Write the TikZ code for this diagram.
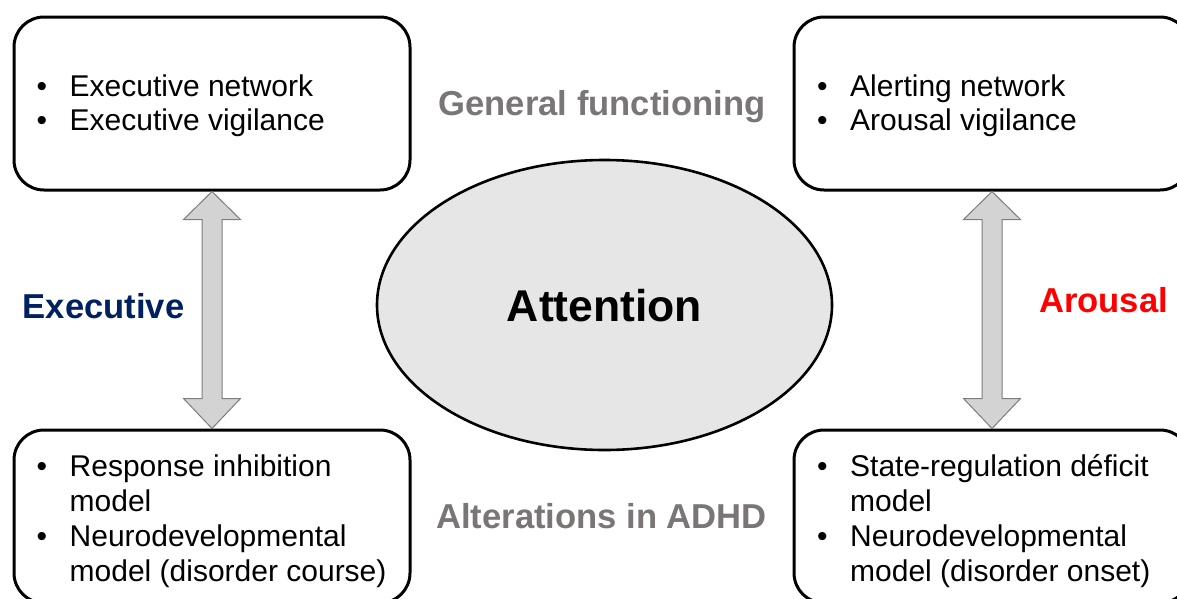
\documentclass[tikz,border=0pt]{standalone}
\usepackage{fontspec}
\setmainfont{Liberation Sans}
\usetikzlibrary{shapes.geometric,calc}

\definecolor{navylabel}{RGB}{0,32,96}
\definecolor{graylabel}{RGB}{122,118,118}
\definecolor{ovalfill}{RGB}{230,230,230}
\definecolor{arrowfill}{RGB}{211,211,211}
\definecolor{arrowline}{RGB}{125,125,125}

% bullet with a fixed hanging indent, and the matching blank indent
\newcommand{\bul}{\makebox[33pt][l]{\textbullet}}
\newcommand{\ind}{\hspace*{33pt}}

\begin{document}
\begin{tikzpicture}[x=1pt,y=-1pt,
  panel/.style={draw,line width=3pt,rounded corners=30pt,
    minimum width=396pt,minimum height=173pt,inner sep=0pt},
  toplist/.style={inner sep=0pt,anchor=base west,
    font=\fontsize{30}{34}\selectfont},
  botlist/.style={inner sep=0pt,anchor=base west,
    font=\fontsize{30}{35.3}\selectfont},
  sidelabel/.style={inner sep=0pt,anchor=base,
    font=\bfseries\fontsize{34.6}{40}\selectfont},
  oval/.style={ellipse,draw,line width=2.6pt,fill=ovalfill,
    minimum width=455pt,minimum height=290pt,inner sep=0pt},
  blockarrow/.style={draw=arrowline,fill=arrowfill,line width=1pt,line join=miter}
]
\useasboundingbox (0,0) rectangle (1177,598);
\clip (0,0) rectangle (1177,598);

% four panels
\node[panel] (tl) at (212,103.5) {};
\node[panel] (tr) at (992,103.5) {};
\node[panel] (bl) at (212,516.5) {};
\node[panel] (br) at (992,516.5) {};

% panel contents
\node[toplist] (tltext) at (36.5,96) {\begin{tabular}[t]{@{}l@{}}
  \bul Executive network\\
  \bul Executive vigilance
\end{tabular}};
\node[toplist] (trtext) at (817,96) {\begin{tabular}[t]{@{}l@{}}
  \bul Alerting network\\
  \bul Arousal vigilance
\end{tabular}};
\node[botlist] (bltext) at (36.5,476) {\begin{tabular}[t]{@{}l@{}}
  \bul Response inhibition\\
  \ind model\\
  \bul Neurodevelopmental\\
  \ind model (disorder course)
\end{tabular}};
\node[botlist] (brtext) at (817,476) {\begin{tabular}[t]{@{}l@{}}
  \bul State-regulation déficit\\
  \ind model\\
  \bul Neurodevelopmental\\
  \ind model (disorder onset)
\end{tabular}};

% central oval
\node[oval] (att) at (604.5,305) {};
\node[inner sep=0pt,anchor=base,font=\bfseries\fontsize{44.5}{50}\selectfont]
  (atttext) at (604.5,321) {Attention};

% labels
\node[sidelabel,text=graylabel] (gen) at (602,115) {General functioning};
\node[sidelabel,text=graylabel] (alt) at (601.5,528) {Alterations in ADHD};
\node[sidelabel,text=navylabel] (exe) at (103.5,318) {Executive};
\node[sidelabel,text=red] (aro) at (1103.5,312) {Arousal};

% double-headed block arrows between the panels
\draw[blockarrow] (tl.south) -- ++(28.5,28) -- ++(-18.5,0)
  -- ($(bl.north)+(10,-30)$) -- ++(18.5,0) -- (bl.north)
  -- ++(-28.5,-30) -- ++(18.5,0)
  -- ($(tl.south)+(-10,28)$) -- ++(-18.5,0) -- cycle;
\draw[blockarrow] (tr.south) -- ++(28.5,28) -- ++(-18.5,0)
  -- ($(br.north)+(10,-30)$) -- ++(18.5,0) -- (br.north)
  -- ++(-28.5,-30) -- ++(18.5,0)
  -- ($(tr.south)+(-10,28)$) -- ++(-18.5,0) -- cycle;
\end{tikzpicture}
\end{document}
